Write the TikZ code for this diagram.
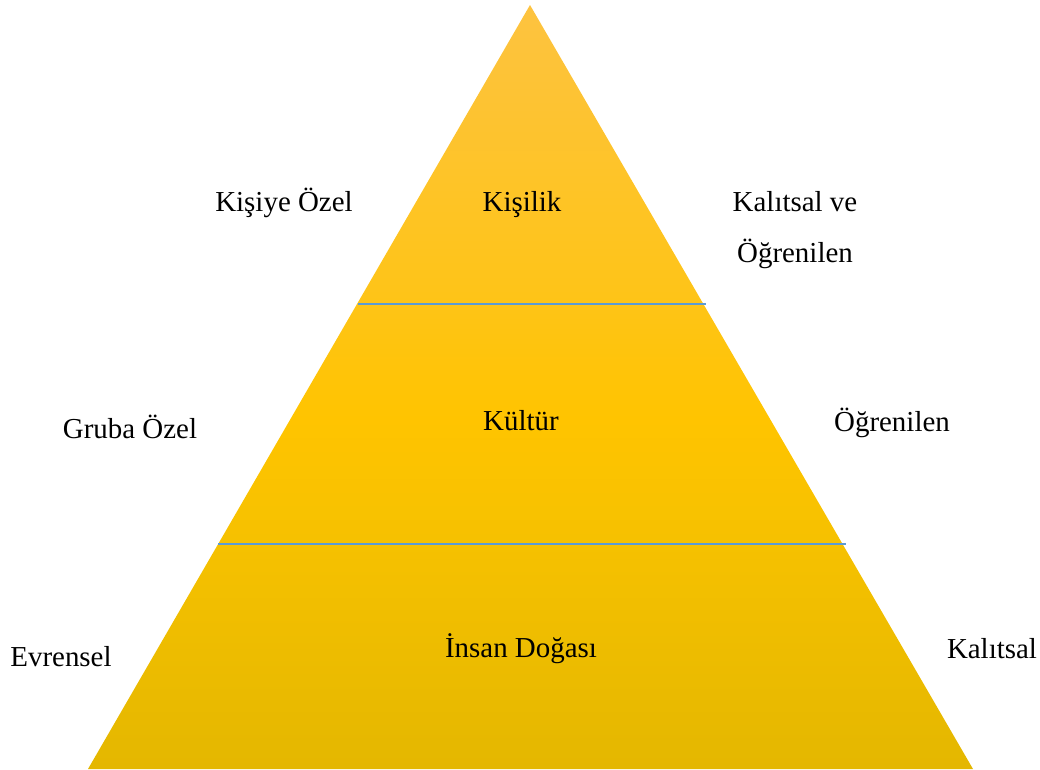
\documentclass[tikz,border=0pt]{standalone}
\usepackage{fontspec}
\setmainfont{Liberation Serif}
\definecolor{tepe}{HTML}{FDC340}
\definecolor{ust}{HTML}{FEC418}
\definecolor{orta}{HTML}{FFC400}
\definecolor{alt}{HTML}{F6C100}
\definecolor{taban}{HTML}{E4B700}
\definecolor{cizgi}{HTML}{5B9BD5}
\pgfdeclareverticalshading{piramit}{100bp}{color(0bp)=(taban); color(25bp)=(taban); color(40bp)=(alt); color(48bp)=(orta); color(56bp)=(ust); color(75bp)=(tepe); color(100bp)=(tepe)}
\begin{document}
\begin{tikzpicture}[x=0.75pt,y=-0.75pt, line join=round, line cap=round, font=\fontsize{21.7}{26}\selectfont]
		\tikzset{etiket/.style={anchor=base, inner sep=0pt}}
		\useasboundingbox (0,0) rectangle (1040,769);
		\coordinate (T) at (530,5);
		\coordinate (L) at (88,769);
		\coordinate (R) at (973,769);
		\shade[shading=piramit] (T)--(L)--(R)--cycle;
		% Katman çizgileri
		\coordinate (a1) at (358,304); \coordinate (b1) at (706,304);
		\coordinate (a2) at (218,544); \coordinate (b2) at (846,544);
		\draw[cizgi, line width=1.5pt, line cap=butt] (a1)--(b1);
		\draw[cizgi, line width=1.5pt, line cap=butt] (a2)--(b2);
		% Katmanlar
		\node[etiket] (kisilik) at (522,211) {Kişilik};
		\node[etiket] (kultur) at (521,430) {Kültür};
		\node[etiket] (doga) at (521,657) {İnsan Doğası};
		% Sol
		\node[etiket] (ozel) at (284,211) {Kişiye Özel};
		\node[etiket] (grup) at (130,438) {Gruba Özel};
		\node[etiket] (evren) at (61,666) {Evrensel};
		% Sağ
		\node[etiket] (kalveog) at (795,211) {Kalıtsal ve};
		\node[etiket] (ogr1) at (795,262) {Öğrenilen};
		\node[etiket] (ogr2) at (892,431) {Öğrenilen};
		\node[etiket] (kal) at (992,658) {Kalıtsal};
\end{tikzpicture}
\end{document}
